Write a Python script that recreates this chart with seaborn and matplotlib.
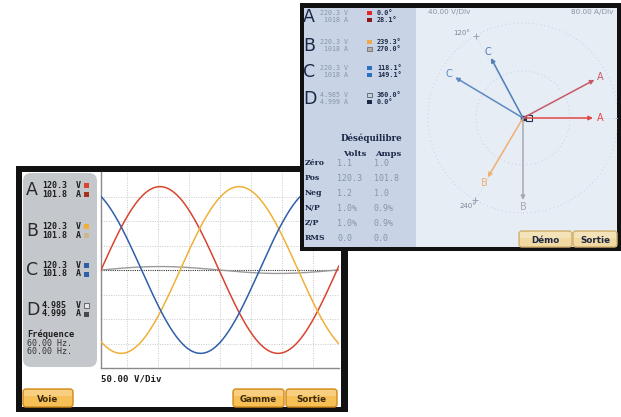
import numpy as np
import pandas as pd
import matplotlib
matplotlib.use("Agg")
import matplotlib.pyplot as plt
import seaborn as sns
from matplotlib.patches import Rectangle, FancyBboxPatch, Circle

# ---------------- data ----------------
channels = ["A", "B", "C", "D"]
wave_rms_v = [120.3, 120.3, 120.3, 4.985]
wave_rms_a = ["101.8", "101.8", "101.8", "4.999"]
wave_rms_v_txt = ["120.3", "120.3", "120.3", "4.985"]
wave_phase = [0.0, 239.3, 118.1, 360.0]          # degrees
freq_lines = ["60.00 Hz.", "60.00 Hz."]
volts_per_div = 50.0
wave_span_deg = 363.0                             # horizontal span of the trace

ph_rms_v = ["220.3", "220.3", "220.3", "4.985"]
ph_rms_a = ["1018", "1018", "1018", "4.999"]
ph_ang_v = [0.0, 239.3, 118.1, 360.0]
ph_ang_a = [28.1, 270.0, 149.1, 0.0]
ph_len_v = [0.70, 0.69, 0.68, 0.0]                # fraction of outer ring
ph_len_a = [0.81, 0.82, 0.79, 0.0]
ring_labels = ["120°", "240°"]
scale_labels = ["40.00 V/Div", "80.00 A/Div"]

unb_rows = ["Zéro", "Pos", "Neg", "N/P", "Z/P", "RMS"]
unb_volts = ["1.1", "120.3", "1.2", "1.0%", "1.0%", "0.0"]
unb_amps = ["1.0", "101.8", "1.0", "0.9%", "0.9%", "0.0"]

front_buttons = ["Voie", "Gamme", "Sortie"]
back_buttons = ["Démo", "Sortie"]

# ---------------- styles ----------------
W, H = 621, 417
col_v = {"A": "#d9442f", "B": "#f0b038", "C": "#2f5fa8", "D": "#9a9a9a"}
col_a_sq = {"A": "#a8301f", "B": "#cbb88a", "C": "#2f5fa8", "D": "#4a4a4a"}
ph_col_v = {"A": "#e34848", "B": "#f2b070", "C": "#4f7fb8", "D": "#24304e"}
ph_col_a = {"A": "#c65a68", "B": "#a8a8b2", "C": "#5c8ac0", "D": "#24304e"}
ph_sq_v = {"A": "#e02828", "B": "#f0a848", "C": "#2a70c0", "D": "#c8d0dc"}
ph_sq_a = {"A": "#8a1818", "B": "#b8b0a8", "C": "#2a70c0", "D": "#1c2846"}

sns.set_theme(style="white")
plt.rcParams["font.family"] = ["DejaVu Sans"]
MONO = "DejaVu Sans Mono"

fig = plt.figure(figsize=(W / 100, H / 100), dpi=100)
fig.patch.set_facecolor("white")


def frect(x0, y0, x1, y1):
    return [x0 / W, 1 - y1 / H, (x1 - x0) / W, (y1 - y0) / H]


def overlay(z):
    ax = fig.add_axes([0, 0, 1, 1], zorder=z)
    ax.set_xlim(0, W)
    ax.set_ylim(H, 0)
    ax.axis("off")
    return ax


def button(ax, x0, x1, y0, y1, label, face, edge, tcol):
    ax.add_patch(FancyBboxPatch((x0, y0), x1 - x0, y1 - y0,
                                boxstyle="round,pad=0,rounding_size=3",
                                fc=face, ec=edge, lw=1.0))
    ax.add_patch(Rectangle((x0 + 1, y0 + 1), x1 - x0 - 2, (y1 - y0) * 0.35,
                           fc="white", ec="none", alpha=0.25))
    ax.text((x0 + x1) / 2, (y0 + y1) / 2 + 1, label, ha="center", va="center",
            fontsize=6.3, fontweight="bold", color=tcol)


# ================= FRONT SCREEN (waveforms) =================
axf = overlay(0)
axf.add_patch(Rectangle((16, 166), 332, 246, fc="#111111", ec="none"))
axf.add_patch(Rectangle((22, 172), 319, 235, fc="white", ec="none"))
axf.add_patch(FancyBboxPatch((23, 173), 74, 194,
                             boxstyle="round,pad=0,rounding_size=8",
                             fc="#c4c7cb", ec="none"))

row_y = [(185, 194), (226, 235), (265, 274), (305, 314)]
for i, ch in enumerate(channels):
    yt, yb = row_y[i]
    axf.text(26, (yt + yb) / 2 + 0.5, ch, fontsize=12.5, color="#2a2a2a",
             ha="left", va="center")
    axf.text(42, yt, wave_rms_v_txt[i], family=MONO, fontweight="bold",
             fontsize=6, color="#1e1e1e", ha="left", va="center")
    axf.text(42, yb, wave_rms_a[i], family=MONO, fontweight="bold",
             fontsize=6, color="#1e1e1e", ha="left", va="center")
    axf.text(76, yt, "V", family=MONO, fontweight="bold", fontsize=6,
             color="#1e1e1e", ha="left", va="center")
    axf.text(76, yb, "A", family=MONO, fontweight="bold", fontsize=6,
             color="#1e1e1e", ha="left", va="center")
    hollow = ch == "D"
    axf.add_patch(Rectangle((84, yt - 2.5), 5, 5,
                            fc="#e8e8e8" if hollow else col_v[ch],
                            ec="#555555" if hollow else "none", lw=0.6))
    axf.add_patch(Rectangle((84, yb - 2.5), 5, 5, fc=col_a_sq[ch], ec="none"))

axf.text(27, 334, "Fréquence", family=MONO, fontweight="bold", fontsize=6.3,
         color="#1e1e1e", ha="left", va="center")
for k, t in enumerate(freq_lines):
    axf.text(27, 343 + 9 * k, t, family=MONO, fontsize=6, color="#333333",
             ha="left", va="center")

axf.text(101, 379, f"{volts_per_div:.2f} V/Div", family=MONO, fontweight="bold",
         fontsize=6.6, color="#1e1e1e", ha="left", va="center")

fb_pos = [(23, 73), (233, 284), (286, 337)]
for (x0, x1), lab in zip(fb_pos, front_buttons):
    button(axf, x0, x1, 389, 407, lab, "#f6c057", "#d28a1c", "#3a2a10")

# waveform axes
axw = fig.add_axes(frect(101, 172, 339, 368), zorder=1)
theta = np.linspace(0, wave_span_deg, 700)
frames = []
for ch, rms, ph in zip(channels, wave_rms_v, wave_phase):
    frames.append(pd.DataFrame({
        "deg": theta,
        "volts": np.sqrt(2) * rms * np.sin(np.radians(theta + ph)),
        "ch": ch}))
wave = pd.concat(frames, ignore_index=True)

axw.set_facecolor("white")
for gx in [40, 87.3, 134.6, 181.9, 229.2, 276.5, 323.8]:
    axw.axvline(gx, color="#c9c9c9", lw=0.7, ls=(0, (1, 1.5)), zorder=0)
for gy in [-150, -100, -50, 50, 100, 150]:
    axw.axhline(gy, color="#c9c9c9", lw=0.7, ls=(0, (1, 1.5)), zorder=0)
axw.axhline(0, color="#333333", lw=0.8, ls=(0, (1, 1)), zorder=1)

sns.lineplot(data=wave[wave.ch == "D"], x="deg", y="volts", color=col_v["D"],
             lw=1.0, ax=axw, legend=False, zorder=2)
sns.lineplot(data=wave[wave.ch != "D"], x="deg", y="volts", hue="ch",
             palette=col_v, lw=1.1, ax=axw, legend=False, zorder=3)
axw.set_xlim(0, wave_span_deg)
axw.set_ylim(-4 * volts_per_div, 4 * volts_per_div)
axw.set_xticks([])
axw.set_yticks([])
axw.set_xlabel("")
axw.set_ylabel("")
for s in ["top", "right"]:
    axw.spines[s].set_visible(False)
for s in ["left", "bottom"]:
    axw.spines[s].set_color("#8a8a8a")
    axw.spines[s].set_linewidth(1.0)

# ================= BACK SCREEN (phasors) =================
axb = overlay(2)
axb.add_patch(Rectangle((300, 3), 321, 248, fc="#111111", ec="none"))
axb.add_patch(Rectangle((304, 8), 112, 239, fc="#c8d4e6", ec="none"))
axb.add_patch(Rectangle((416, 8), 201, 239, fc="#e6edf5", ec="none"))

NAVY = "#1c2846"
LIGHT = "#8894ac"
brow = [(13, 20), (42, 49), (68, 75), (95, 102)]
for i, ch in enumerate(channels):
    yt, yb = brow[i]
    axb.text(303, (yt + yb) / 2 + 0.5, ch, fontsize=12.5, color=NAVY,
             ha="left", va="center")
    axb.text(348, yt, ph_rms_v[i] + " V", family=MONO, fontsize=4.8,
             color=LIGHT, ha="right", va="center")
    axb.text(348, yb, ph_rms_a[i] + " A", family=MONO, fontsize=4.8,
             color=LIGHT, ha="right", va="center")
    hv = ch == "D"
    axb.add_patch(Rectangle((367, yt - 2.2), 4.5, 4.5, fc=ph_sq_v[ch],
                            ec="#55607a" if hv else "none", lw=0.6))
    hb = ch == "B"
    axb.add_patch(Rectangle((367, yb - 2.2), 4.5, 4.5, fc=ph_sq_a[ch],
                            ec="#707070" if hb else "none", lw=0.6))
    axb.text(377, yt, f"{ph_ang_v[i]:.1f}°", family=MONO, fontweight="bold",
             fontsize=4.9, color=NAVY, ha="left", va="center")
    axb.text(377, yb, f"{ph_ang_a[i]:.1f}°", family=MONO, fontweight="bold",
             fontsize=4.9, color=NAVY, ha="left", va="center")

axb.text(371, 138, "Déséquilibre", fontweight="bold", fontsize=6.2,
         color=NAVY, ha="center", va="center", family="DejaVu Serif")
axb.text(343, 154, "Volts", fontweight="bold", fontsize=6, color=NAVY,
         ha="left", va="center", family="DejaVu Serif")
axb.text(375, 154, "Amps", fontweight="bold", fontsize=6, color=NAVY,
         ha="left", va="center", family="DejaVu Serif")
for k, (r, v, a) in enumerate(zip(unb_rows, unb_volts, unb_amps)):
    yy = 163 + 15 * k
    axb.text(305, yy, r, fontweight="bold", fontsize=5.6, color=NAVY,
             ha="left", va="center", family="DejaVu Serif")
    axb.text(337, yy, v, family=MONO, fontsize=6, color=LIGHT,
             ha="left", va="center")
    axb.text(374, yy, a, family=MONO, fontsize=6, color=LIGHT,
             ha="left", va="center")

axb.text(428, 12, scale_labels[0], fontsize=5.2, color="#8a92a0",
         ha="left", va="center")
axb.text(613, 12, scale_labels[1], fontsize=5.2, color="#8a92a0",
         ha="right", va="center")

# phasor axes (data units = pixels from the origin)
OX, OY = 523, 118
R = 100.0
axp = fig.add_axes(frect(416, 8, 617, 247), zorder=3)
axp.set_xlim(416 - OX, 617 - OX)
axp.set_ylim(OY - 247, OY - 8)
axp.axis("off")

for rr in [47, 95]:
    axp.add_patch(Circle((0, 0), rr, fill=False, ec="#c8d0dc", lw=0.7,
                         ls=(0, (1, 3))))
for ang in [0, 120, 240]:
    ex, ey = 95 * np.cos(np.radians(ang)), 95 * np.sin(np.radians(ang))
    axp.plot([0, ex], [0, ey], color="#ccd3de", lw=0.6, ls=(0, (1, 2)))
    axp.plot(ex, ey, marker="+", ms=4, color="#9aa3b3", mew=0.7)
axp.text(-53, 85, ring_labels[0], fontsize=5, color="#7c8698",
         ha="right", va="center")
axp.text(-47, -88, ring_labels[1], fontsize=5, color="#7c8698",
         ha="right", va="center")

vec_rows = []
for ch, ang, ln in zip(channels, ph_ang_v, ph_len_v):
    vec_rows.append((ch, ang, ln, ph_col_v[ch]))
for ch, ang, ln in zip(channels, ph_ang_a, ph_len_a):
    vec_rows.append((ch, ang, ln, ph_col_a[ch]))
for ch, ang, ln, c in vec_rows:
    if ln <= 0:
        continue
    ex, ey = ln * R * np.cos(np.radians(ang)), ln * R * np.sin(np.radians(ang))
    axp.annotate("", xy=(ex, ey), xytext=(0, 0),
                 arrowprops=dict(arrowstyle="-|>", color=c, lw=1.1,
                                 mutation_scale=6, shrinkA=0, shrinkB=0))
    lx = (ln * R + 7) * np.cos(np.radians(ang))
    ly = (ln * R + 7) * np.sin(np.radians(ang))
    axp.text(lx, ly, ch, fontsize=7, color=c, ha="center", va="center")

# D channel sits on the origin
axp.plot(0, 0, marker="s", ms=3, color=ph_col_v["D"])
axp.plot(6, 0, marker="s", ms=4.5, mfc="none", mec=ph_col_v["D"], mew=0.8)

# back buttons on top
axt = overlay(4)
for (x0, x1), lab in zip([(519, 572), (573, 617)], back_buttons):
    button(axt, x0, x1, 231, 247, lab, "#f1d9a2", "#d2b070", NAVY)

fig.savefig("out.png", dpi=100, facecolor="white")
